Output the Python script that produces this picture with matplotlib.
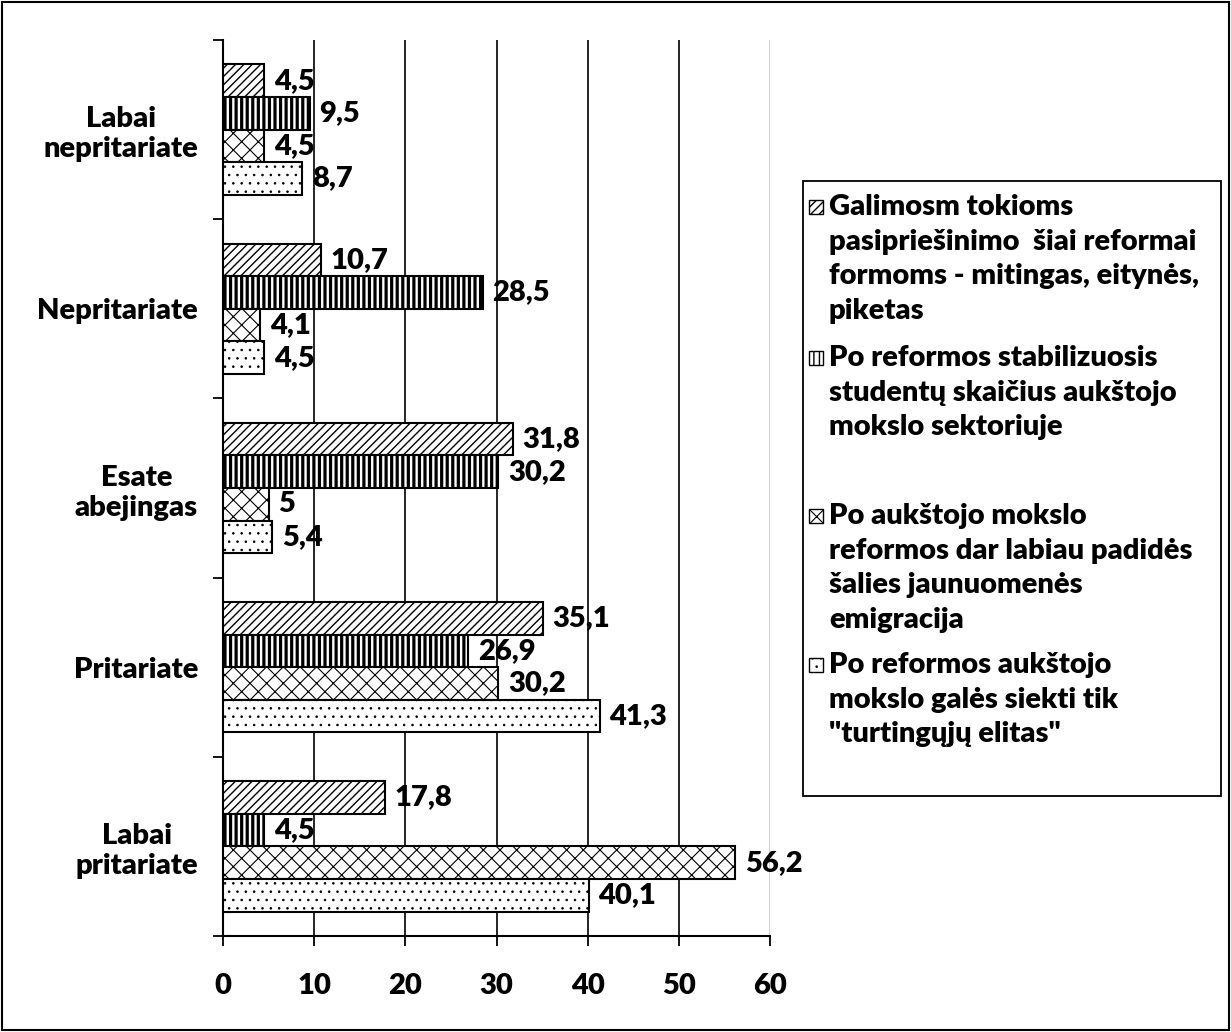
import numpy as np
import matplotlib
matplotlib.use("Agg")
import matplotlib.pyplot as plt
from matplotlib.patches import Rectangle

plt.rcParams["font.family"] = ["Lato", "DejaVu Sans"]
plt.rcParams["font.weight"] = "heavy"

categories = ["Labai\nnepritariate", "Nepritariate", "Esate\nabejingas", "Pritariate", "Labai\npritariate"]
series_names = [
    ["Galimosm tokioms", "pasipriešinimo  šiai reformai", "formoms - mitingas, eitynės,", "piketas"],
    ["Po reformos stabilizuosis", "studentų skaičius aukštojo", "mokslo sektoriuje"],
    ["Po aukštojo mokslo", "reformos dar labiau padidės", "šalies jaunuomenės", "emigracija"],
    ["Po reformos aukštojo", "mokslo galės siekti tik", "\"turtingųjų elitas\""],
]
protest = [4.5, 10.7, 31.8, 35.1, 17.8]
stabilize = [9.5, 28.5, 30.2, 26.9, 4.5]
emigration = [4.5, 4.1, 5, 30.2, 56.2]
elite = [8.7, 4.5, 5.4, 41.3, 40.1]
series_values = [protest, stabilize, emigration, elite]
x_ticks = [0, 10, 20, 30, 40, 50, 60]

hatches = ["////", "|||", "xx", ".."]
hatch_widths = [1.0, 2.3, 0.8, 0.6]
FS = 21
FW = "heavy"

W, H = 1231, 1032
fig = plt.figure(figsize=(W / 100, H / 100), dpi=100)
ax = fig.add_axes([223 / W, 1 - 936 / H, 547 / W, 896 / H])

y = np.arange(len(categories))
h = 0.182
for i, vals in enumerate(series_values):
    with plt.rc_context({"hatch.linewidth": hatch_widths[i]}):
        bars = ax.barh(y + (i - 1.5) * h, vals, height=h, color="white",
                       edgecolor="black", linewidth=1.5, hatch=hatches[i], zorder=3)
    labels = [f"{v:g}".replace(".", ",") for v in vals]
    ax.bar_label(bars, labels=labels, padding=7, fontsize=FS, fontweight=FW)

ax.set_ylim(-0.5, len(categories) - 0.5)
ax.invert_yaxis()
ax.set_xlim(0, 60)
ax.set_xticks(x_ticks)
ax.set_xticklabels([str(t) for t in x_ticks], fontsize=FS, fontweight=FW)
ax.set_yticks(y)
ax.set_yticklabels(categories, fontsize=FS, fontweight=FW, multialignment="center")
ax.set_yticks(np.arange(-0.5, len(categories)), minor=True)
ax.tick_params(axis="y", which="major", length=0, pad=18)
ax.tick_params(axis="y", which="minor", length=7, width=1.3, direction="out")
ax.tick_params(axis="x", length=7, width=1.3, direction="out", pad=20)

ax.set_axisbelow(True)
ax.xaxis.grid(True, color="black", linewidth=1.2)
gl = ax.get_xgridlines()
gl[-1].set_color("#c8c8c8")
for s in ["top", "right"]:
    ax.spines[s].set_visible(False)
for s in ["left", "bottom"]:
    ax.spines[s].set_linewidth(1.5)

# legend box drawn by hand, Excel style
fig.add_artist(Rectangle((803 / W, 1 - 796 / H), 418 / W, 615 / H, transform=fig.transFigure,
                         facecolor="white", edgecolor="black", linewidth=1.3))
entry_tops = [207, 358, 516, 665]
line_step = 34.6
for i, lines in enumerate(series_names):
    top = entry_tops[i]
    with plt.rc_context({"hatch.linewidth": min(hatch_widths[i], 1.0)}):
        fig.add_artist(Rectangle((809 / W, 1 - (top + 7) / H), 14 / W, 14 / H,
                                 transform=fig.transFigure, facecolor="white",
                                 edgecolor="black", linewidth=1.0, hatch=hatches[i]))
    for k, line in enumerate(lines):
        fig.text(829 / W, 1 - (top + k * line_step) / H, line, fontsize=FS,
                 fontweight=FW, va="center", ha="left")

# outer frame
fig.add_artist(Rectangle((2 / W, 2 / H), 1227 / W, 1028 / H, transform=fig.transFigure,
                         facecolor="none", edgecolor="black", linewidth=1.5))

fig.savefig("out.png", dpi=100)
